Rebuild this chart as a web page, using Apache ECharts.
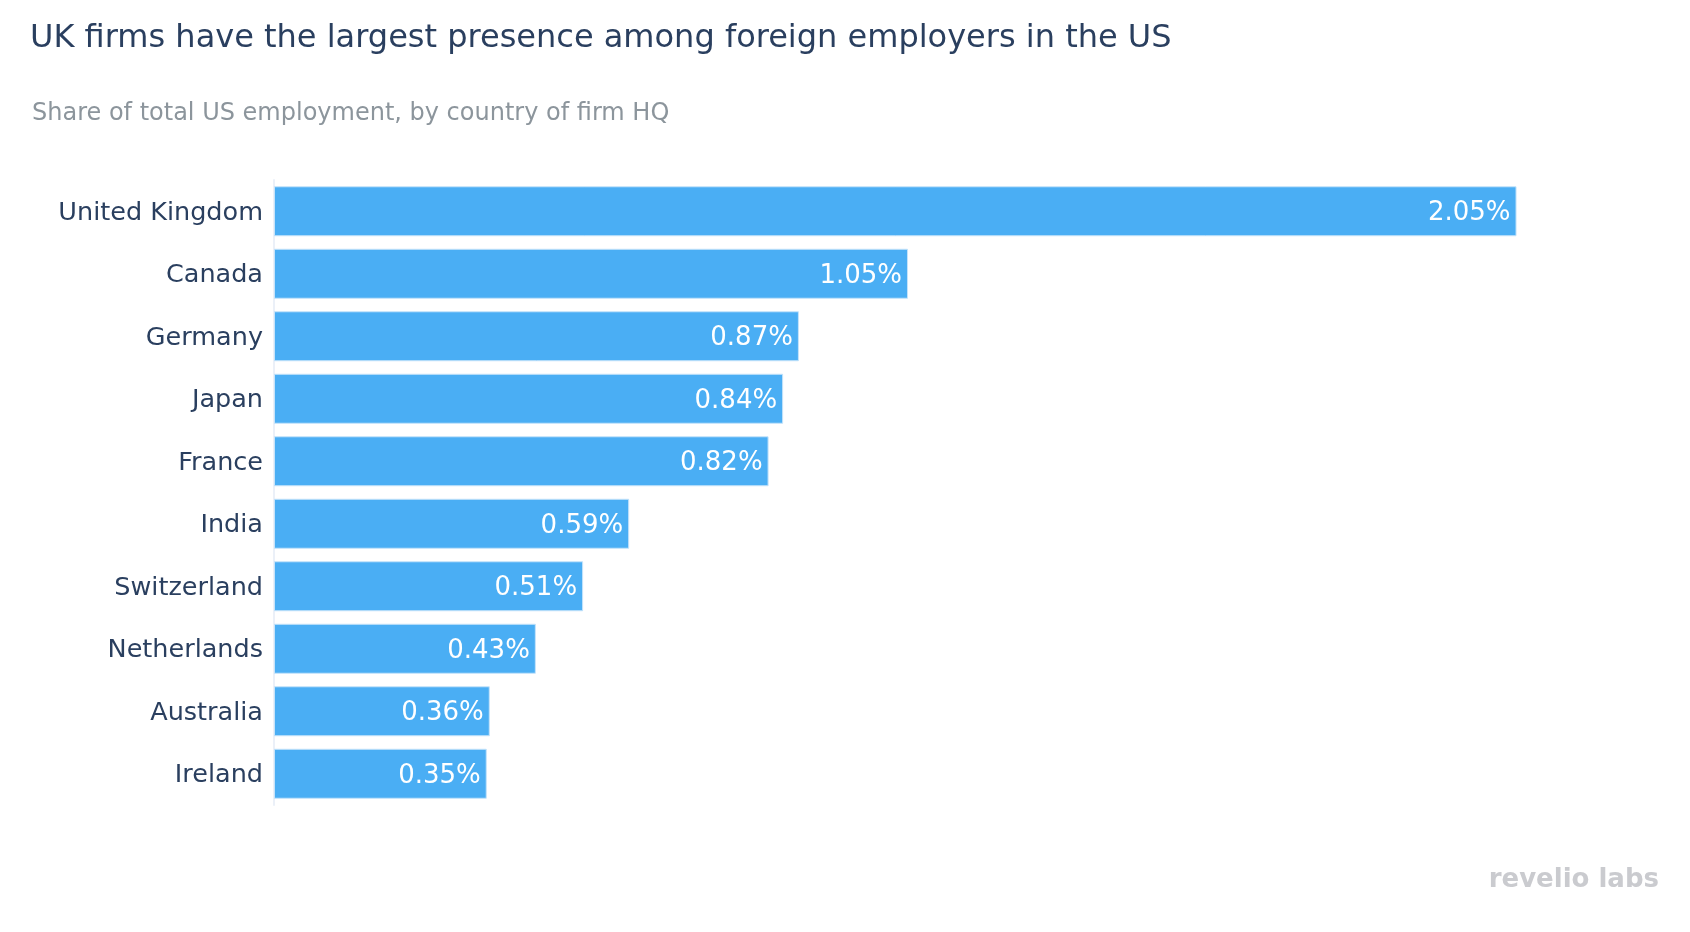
<!DOCTYPE html>
<html><head><meta charset="utf-8">
<script src="https://cdn.jsdelivr.net/npm/echarts@6/dist/echarts.min.js"></script>
<style>html,body{margin:0;padding:0;background:#fff}#c{width:1690px;height:932px}</style>
</head><body><div id="c"></div>
<script>
const categories = ["United Kingdom","Canada","Germany","Japan","France","India","Switzerland","Netherlands","Australia","Ireland"];
const values = [2.05,1.046,0.866,0.84,0.816,0.586,0.51,0.432,0.356,0.351];
const titleText = "UK firms have the largest presence among foreign employers in the US";
const subtitleText = "Share of total US employment, by country of firm HQ";

const chart = echarts.init(document.getElementById('c'));
const F = "DejaVu Sans, Verdana, sans-serif";
chart.setOption({
  backgroundColor:'#fff',
  animation:false,
  title:[
    {text:titleText,left:25,top:18,textStyle:{fontFamily:F,fontSize:32,fontWeight:'normal',color:'#2a3f5f'}},
    {text:subtitleText,left:27,top:97,textStyle:{fontFamily:F,fontSize:24,fontWeight:'normal',color:'#8c959c'}}
  ],
  grid:{left:274,top:180,width:1308,height:625,containLabel:false},
  xAxis:{type:'value',min:0,max:2.158,show:false},
  yAxis:{type:'category',data:categories,inverse:true,
    axisLine:{show:true,lineStyle:{color:'#ebf0f8',width:2}},
    axisTick:{show:false},
    axisLabel:{fontFamily:F,fontSize:25.5,color:'#2a3f5f',margin:11,verticalAlign:'top',lineHeight:4},
    splitLine:{show:false}},
  series:[{type:'bar',data:values,barCategoryGap:'20%',
    itemStyle:{color:'#4aaef4',borderColor:'#c5e3fa',borderWidth:1},
    label:{show:true,position:'insideRight',distance:6,offset:[0,2],fontFamily:F,fontSize:26,color:'#fff',
      formatter:p=>p.value.toFixed(2)+'%'}}],
  graphic:[{type:'text',right:31,top:867,style:{text:'revelio labs',fontFamily:F,fontSize:26,fontWeight:'bold',fill:'#cacbcf'}}]
});
</script></body></html>
